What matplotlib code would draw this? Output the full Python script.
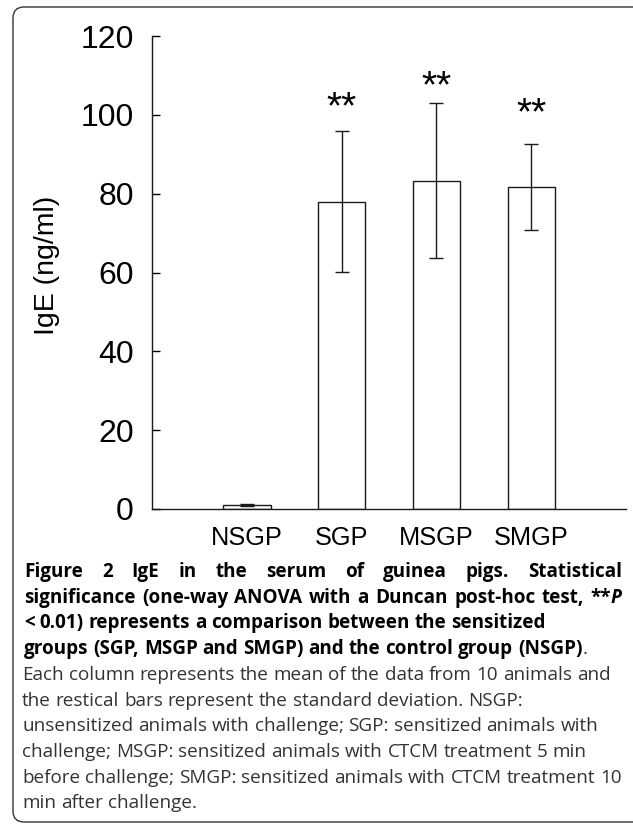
import matplotlib
matplotlib.use('Agg')
import matplotlib.pyplot as plt
from matplotlib.patches import FancyBboxPatch
from matplotlib.transforms import IdentityTransform
import numpy as np

# data
groups = ['NSGP', 'SGP', 'MSGP', 'SMGP']
ige_mean = [1.0, 78.0, 83.3, 81.8]
ige_sd = [0.3, 17.9, 19.6, 10.9]
star_level = [None, 103.6, 109.1, 102.2]   # centre of the ** marks
yticks = [0, 20, 40, 60, 80, 100, 120]

W, H = 633, 827
fig = plt.figure(figsize=(W / 100, H / 100), dpi=100)

# rounded frame round the whole figure (right side runs off the page)
frame = FancyBboxPatch((13, H - 822), 900, 815, boxstyle='round,pad=0,rounding_size=11',
                       transform=IdentityTransform(), facecolor='none',
                       edgecolor='#333333', linewidth=1.0)
fig.patches.append(frame)

ax = fig.add_axes([152 / W, (H - 509) / H, 474 / W, 473 / H])
x = np.arange(len(groups))

ax.bar(x, ige_mean, width=0.5, color='white', edgecolor='#1a1a1a', linewidth=1.0, zorder=2)
ax.errorbar(x, ige_mean, yerr=ige_sd, fmt='none', ecolor='#1a1a1a',
            elinewidth=1.0, capsize=5, capthick=1.0, zorder=3)

for xi, lvl in zip(x, star_level):
    if lvl is None:
        continue
    ax.annotate('**', xy=(xi, lvl), xytext=(0, -13), textcoords='offset points',
                ha='center', va='baseline', fontsize=28, family='Liberation Sans')

ax.set_xlim(-1, 4)
ax.set_ylim(0, 120)
ax.set_yticks(yticks)
ax.set_xticks(x)
ax.set_xticklabels(groups, fontsize=18.3, family='Liberation Sans')
ax.set_yticklabels([str(v) for v in yticks], fontsize=23, family='Liberation Sans')
ax.tick_params(axis='y', direction='in', length=5.8, width=1.0, pad=13)
ax.tick_params(axis='x', length=0, pad=12)
for s in ['top', 'right']:
    ax.spines[s].set_visible(False)
for s in ['left', 'bottom']:
    ax.spines[s].set_linewidth(1.0)
    ax.spines[s].set_color('#1a1a1a')

fig.text(47 / W, 1 - 265 / H, 'IgE (ng/ml)', rotation=90, ha='center', va='center',
         fontsize=20.5, family='Liberation Sans')

# caption
renderer = fig.canvas.get_renderer()
B = dict(family='Open Sans', fontsize=13.6, fontweight='bold', color='black')
BI = dict(B, style='italic')
R = dict(family='Open Sans', fontsize=13.6, color='#333333')
LEFT, RIGHT = 22, 622


def width_of(t):
    return t.get_window_extent(renderer).width


def space_w(style):
    a = fig.text(0, 0, 'x x', **style)
    b = fig.text(0, 0, 'xx', **style)
    w = width_of(a) - width_of(b)
    a.remove()
    b.remove()
    return w


def caption_line(yb, words, justify=False, x0=LEFT):
    placed = []
    total = 0
    for word in words:
        arts = []
        for txt, st in word:
            t = fig.text(0, (H - yb) / H, txt, va='baseline', ha='left', **st)
            arts.append((t, width_of(t)))
        placed.append(arts)
        total += sum(w for _, w in arts)
    if justify and len(words) > 1:
        gap = (RIGHT - x0 - total) / (len(words) - 1)
    else:
        gap = space_w(words[0][0][1])
    xp = x0
    for arts in placed:
        for t, w in arts:
            t.set_x(xp / W)
            xp += w
        xp += gap


def plain(s, st):
    return [[(w, st)] for w in s.split()]


base = 577
step = 25.7
caption_line(base, plain('Figure 2 IgE in the serum of guinea pigs. Statistical', B), True, 24)
caption_line(base + step, plain('significance (one-way ANOVA with a Duncan post-hoc test,', B)
             + [[('**', B), ('P', BI)]], True, 24)
caption_line(base + 2 * step, plain('< 0.01) represents a comparison between the sensitized', B), x0=24)
caption_line(base + 3 * step, plain('groups (SGP, MSGP and SMGP) and the control group', B)
             + [[('(NSGP)', B), ('.', R)]], x0=24)
reg_lines = [
    'Each column represents the mean of the data from 10 animals and',
    'the restical bars represent the standard deviation. NSGP:',
    'unsensitized animals with challenge; SGP: sensitized animals with',
    'challenge; MSGP: sensitized animals with CTCM treatment 5 min',
    'before challenge; SMGP: sensitized animals with CTCM treatment 10',
    'min after challenge.',
]
for i, s in enumerate(reg_lines):
    caption_line(base + (4 + i) * step, plain(s, R))

fig.savefig('out.png', dpi=100)
